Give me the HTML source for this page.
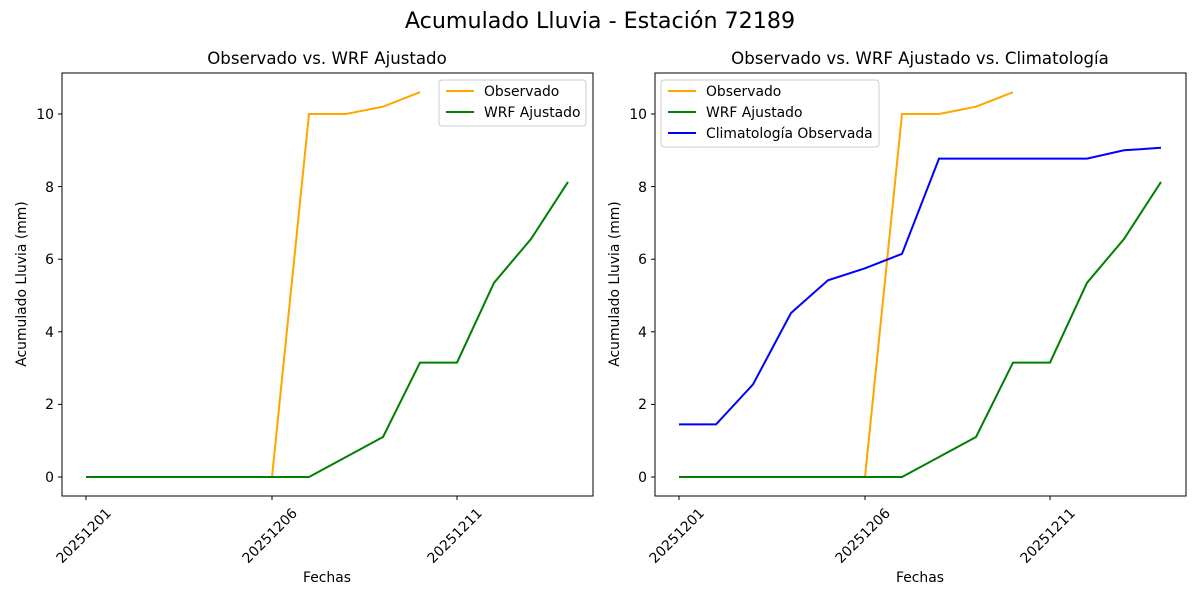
<!DOCTYPE html>
<html><head><meta charset="utf-8"><style>body{margin:0;background:#fff}svg{display:block}text{font-family:"DejaVu Sans","Liberation Sans",sans-serif;fill:#000}</style></head>
<body>
<svg width="1200" height="600" xmlns="http://www.w3.org/2000/svg">
<text x="600" y="28" font-size="22.2" text-anchor="middle">Acumulado Lluvia - Estación 72189</text>
<!-- Left -->
<g>
<text x="327" y="64" font-size="16.6" text-anchor="middle">Observado vs. WRF Ajustado</text>
<rect x="62" y="73" width="531" height="423" fill="none" stroke="#000" stroke-width="1"/>
<g stroke="#000"><line x1="62" y1="477" x2="58" y2="477"/><line x1="62" y1="404.4" x2="58" y2="404.4"/><line x1="62" y1="331.8" x2="58" y2="331.8"/><line x1="62" y1="259.2" x2="58" y2="259.2"/><line x1="62" y1="186.6" x2="58" y2="186.6"/><line x1="62" y1="114" x2="58" y2="114"/>
<line x1="86" y1="496" x2="86" y2="500"/><line x1="272" y1="496" x2="272" y2="500"/><line x1="457" y1="496" x2="457" y2="500"/></g>
<g font-size="13.9" text-anchor="end"><text x="54" y="482">0</text><text x="54" y="409">2</text><text x="54" y="337">4</text><text x="54" y="264">6</text><text x="54" y="192">8</text><text x="54" y="119">10</text></g>
<g font-size="13.9" text-anchor="end"><text transform="translate(112,514) rotate(-45)">20251201</text><text transform="translate(298,514) rotate(-45)">20251206</text><text transform="translate(483,514) rotate(-45)">20251211</text></g>
<text x="327" y="582" font-size="13.9" text-anchor="middle">Fechas</text>
<text transform="translate(26,284) rotate(-90)" font-size="13.9" text-anchor="middle">Acumulado Lluvia (mm)</text>
<polyline fill="none" stroke="orange" stroke-width="2" points="86,477 123,477 160,477 198,477 235,477 272,477 309,114 346,114 383,106.7 420,92.2"/>
<polyline fill="none" stroke="green" stroke-width="2" points="86,477 123,477 160,477 198,477 235,477 272,477 309,477 346,457 383,437 420,362.6 457,362.6 494,282.8 531,239 568,181.9"/>
<rect x="439" y="80" width="147" height="46" fill="#fff" stroke="#ccc" rx="3"/>
<line x1="446" y1="91" x2="474" y2="91" stroke="orange" stroke-width="2"/><text x="484" y="96" font-size="13.9">Observado</text>
<line x1="446" y1="112" x2="474" y2="112" stroke="green" stroke-width="2"/><text x="484" y="117" font-size="13.9">WRF Ajustado</text>
</g>
<!-- Right -->
<g>
<text x="920" y="64" font-size="16.6" text-anchor="middle">Observado vs. WRF Ajustado vs. Climatología</text>
<rect x="655" y="73" width="531" height="423" fill="none" stroke="#000" stroke-width="1"/>
<g stroke="#000"><line x1="655" y1="477" x2="651" y2="477"/><line x1="655" y1="404.4" x2="651" y2="404.4"/><line x1="655" y1="331.8" x2="651" y2="331.8"/><line x1="655" y1="259.2" x2="651" y2="259.2"/><line x1="655" y1="186.6" x2="651" y2="186.6"/><line x1="655" y1="114" x2="651" y2="114"/>
<line x1="679" y1="496" x2="679" y2="500"/><line x1="865" y1="496" x2="865" y2="500"/><line x1="1050" y1="496" x2="1050" y2="500"/></g>
<g font-size="13.9" text-anchor="end"><text x="647" y="482">0</text><text x="647" y="409">2</text><text x="647" y="337">4</text><text x="647" y="264">6</text><text x="647" y="192">8</text><text x="647" y="119">10</text></g>
<g font-size="13.9" text-anchor="end"><text transform="translate(705,514) rotate(-45)">20251201</text><text transform="translate(891,514) rotate(-45)">20251206</text><text transform="translate(1076,514) rotate(-45)">20251211</text></g>
<text x="920" y="582" font-size="13.9" text-anchor="middle">Fechas</text>
<text transform="translate(619,284) rotate(-90)" font-size="13.9" text-anchor="middle">Acumulado Lluvia (mm)</text>
<polyline fill="none" stroke="orange" stroke-width="2" points="679,477 716,477 753,477 791,477 828,477 865,477 902,114 939,114 976,106.7 1013,92.2"/>
<polyline fill="none" stroke="green" stroke-width="2" points="679,477 716,477 753,477 791,477 828,477 865,477 902,477 939,457 976,437 1013,362.6 1050,362.6 1087,282.8 1124,239 1161,181.9"/>
<polyline fill="none" stroke="blue" stroke-width="2" points="679,424.4 716,424.4 753,384.4 791,313 828,280.3 865,268.3 902,253.8 939,158.6 976,158.6 1013,158.6 1050,158.6 1087,158.6 1124,150.3 1161,147.8"/>
<rect x="661" y="80" width="218" height="67" fill="#fff" stroke="#ccc" rx="3"/>
<line x1="668" y1="91" x2="696" y2="91" stroke="orange" stroke-width="2"/><text x="706" y="96" font-size="13.9">Observado</text>
<line x1="668" y1="112" x2="696" y2="112" stroke="green" stroke-width="2"/><text x="706" y="117" font-size="13.9">WRF Ajustado</text>
<line x1="668" y1="133" x2="696" y2="133" stroke="blue" stroke-width="2"/><text x="706" y="138" font-size="13.9">Climatología Observada</text>
</g>
</svg>
</body></html>
